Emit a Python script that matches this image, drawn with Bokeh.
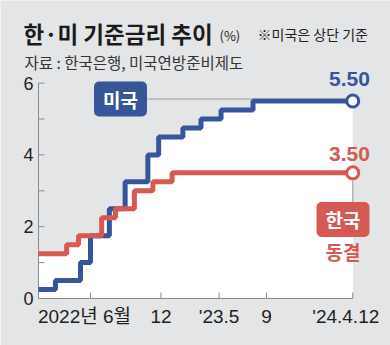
from datetime import datetime
from bokeh.plotting import figure
from bokeh.models import Range1d, Label, ColumnDataSource
from bokeh.core.properties import value
from bokeh.embed import file_html
from bokeh.resources import INLINE

# ---- data ----
us_dates = ["2022-01-17", "2022-03-02", "2022-05-06", "2022-06-01", "2022-07-20",
            "2022-08-30", "2022-10-28", "2022-11-25", "2023-01-27", "2023-03-15",
            "2023-05-06", "2023-07-28", "2024-04-12"]
us_rates = [0.25, 0.50, 1.00, 1.75, 2.50, 3.25, 4.00, 4.50, 4.75, 5.00, 5.25, 5.50, 5.50]

kr_dates = ["2022-01-17", "2022-03-31", "2022-05-01", "2022-06-30", "2022-08-05",
            "2022-09-23", "2022-11-10", "2022-12-30", "2024-04-12"]
kr_rates = [1.25, 1.50, 1.75, 2.25, 2.50, 3.00, 3.25, 3.50, 3.50]

x_tick_dates = ["2022-06-01", "2022-12-01", "2023-05-01", "2023-09-01", "2024-04-12"]
x_tick_labels = ["2022년 6월", "12", "'23.5", "9", "'24.4.12"]
y_ticks = [0, 2, 4, 6]
y_tick_labels = ["0", "2", "4", "6"]
y_minor = [1, 3, 5]

TITLE = "한·미 기준금리 추이"
UNIT = "(%)"
NOTE = "※미국은 상단 기준"
SOURCE = "자료 : 한국은행, 미국연방준비제도"
US_LABEL, KR_LABEL, KR_NOTE = "미국", "한국", "동결"
us_last_text = "5.50"
kr_last_text = "3.50"


def ms(s):
    return (datetime.strptime(s, "%Y-%m-%d") - datetime(1970, 1, 1)).total_seconds() * 1000.0


usx = [ms(d) for d in us_dates]
krx = [ms(d) for d in kr_dates]
xtx = [ms(d) for d in x_tick_dates]

BLUE = "#37569a"
RED = "#d65a52"
BG = "#e4e5e7"
GRAY_AX = "#8a8a8a"
TXT = "#222222"
LAT = "'Liberation Sans', 'Noto Sans CJK KR', sans-serif"
KR = "'Noto Sans CJK KR', sans-serif"

W, H = 390, 345
ZERO_PX = 298           # canvas y of value 0
AXIS_PX = 38            # canvas x of the y axis (data start)
PX_PER_UNIT = 35.9

x0 = ms(us_dates[0])
MS_PER_PX = (ms("2024-07-19") - x0) / (W - AXIS_PX)


def X(px):
    return x0 + (px - AXIS_PX) * MS_PER_PX


def Y(py):
    return (ZERO_PX - py) / PX_PER_UNIT


p = figure(width=W, height=H, output_backend="svg", toolbar_location=None,
           x_range=Range1d(X(0), X(W)), y_range=Range1d(Y(H), Y(0)),
           x_axis_type=None, y_axis_type=None, min_border=0)
p.background_fill_color = BG
p.border_fill_color = BG
p.outline_line_color = None
p.grid.visible = False

# white areas under each series
p.varea_step(x=usx, y1=0, y2=us_rates, step_mode="after", fill_color="white")
p.varea_step(x=krx, y1=0, y2=kr_rates, step_mode="after", fill_color="white")

# ---- axes ----
# y axis
p.segment(x0=[x0], y0=[0], x1=[x0], y1=[max(y_ticks)], line_color=GRAY_AX, line_width=1)
all_ticks = y_ticks + y_minor
p.segment(x0=[x0] * len(all_ticks), y0=all_ticks, x1=[X(AXIS_PX + 6)] * len(all_ticks),
          y1=all_ticks, line_color=GRAY_AX, line_width=1)
ysrc = ColumnDataSource(dict(x=[X(AXIS_PX - 5)] * len(y_ticks), y=y_ticks, t=y_tick_labels))
p.text(x="x", y="y", text="t", source=ysrc, text_align="right", text_baseline="middle",
       text_font=value(LAT), text_font_size=value("18px"), text_color=TXT)

# x axis
p.segment(x0=[x0], y0=[0], x1=[usx[-1]], y1=[0], line_color=GRAY_AX, line_width=1)
p.segment(x0=xtx, y0=[0] * len(xtx), x1=xtx, y1=[Y(ZERO_PX - 6)] * len(xtx),
          line_color=GRAY_AX, line_width=1)
xsrc = ColumnDataSource(dict(x=xtx, y=[Y(316)] * len(xtx), t=x_tick_labels,
                             dx=[-6, 0, 0, 0, -7]))
p.text(x="x", y="y", text="t", x_offset="dx", source=xsrc, text_align="center",
       text_baseline="middle", text_font=value(LAT), text_font_size=value("19px"),
       text_color=TXT)

# leader lines
p.segment(x0=[X(147)], y0=[Y(98.5)], x1=[usx[-2]], y1=[Y(98.5)], line_color="#9a9a9a", line_width=1)
p.segment(x0=[krx[-1]], y0=[kr_rates[-1]], x1=[krx[-1]], y1=[Y(203)], line_color="#9a9a9a", line_width=1)

# lines
p.step(x=usx, y=us_rates, mode="after", line_color=BLUE, line_width=5)
p.step(x=krx, y=kr_rates, mode="after", line_color=RED, line_width=5)

# end markers
p.scatter(x=[usx[-1], krx[-1]], y=[us_rates[-1], kr_rates[-1]], size=12,
          fill_color="white", line_color=[BLUE, RED], line_width=3)


def lab(text, px, py, size, color, font=KR, style="normal", align="center", **kw):
    p.add_layout(Label(x=X(px), y=Y(py), text=text, text_font=font, text_font_size=size,
                       text_color=color, text_font_style=style, text_align=align,
                       text_baseline="middle", **kw))


# header
lab(TITLE, 23, 32, "22.5px", "#1b1b1b", style="bold", align="left")
lab(UNIT, 219, 35, "13px", TXT, align="left")
lab(NOTE, 257, 33, "14px", TXT, align="left")
lab(SOURCE, 24, 61, "15.5px", "#333333", align="left")

# end values
lab(us_last_text, 349, 78, "21px", BLUE, font=LAT, style="bold")
lab(kr_last_text, 349, 153, "21px", RED, font=LAT, style="bold")

# series tags
lab(US_LABEL, 120, 98.5, "19px", "white", style="bold",
    background_fill_color=BLUE, border_radius=5,
    padding=dict(left=9, right=9, top=4, bottom=4))
lab(KR_LABEL, 342.5, 219, "19px", "white", style="bold",
    background_fill_color=RED, border_radius=5,
    padding=dict(left=9, right=9, top=4, bottom=4))
lab(KR_NOTE, 342.5, 251, "19px", RED, style="bold")

open("out.html", "w").write(file_html(p, INLINE))
